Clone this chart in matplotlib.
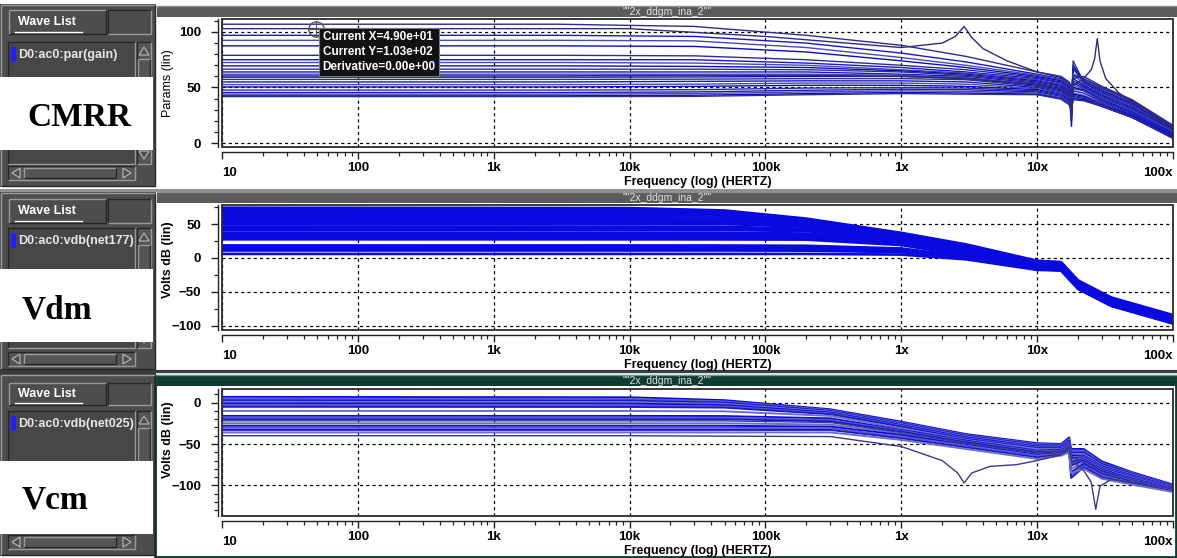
import matplotlib
matplotlib.use("Agg")
import matplotlib.pyplot as plt
from matplotlib.patches import Rectangle, Polygon
from matplotlib.ticker import LogLocator, MultipleLocator, NullFormatter
from matplotlib import font_manager as fm

W, H = 1177, 558

_names = {f.name for f in fm.fontManager.ttflist}
NARROW = "Liberation Sans Narrow" if "Liberation Sans Narrow" in _names else "Liberation Sans"
SERIF = "Liberation Serif"

# ------------------------------------------------------------------ data
x_ticks = [10, 100, 1e3, 1e4, 1e5, 1e6, 1e7, 1e8]
x_tick_labels = ["10", "100", "1k", "10k", "100k", "1x", "10x", "100x"]
title_text = '""2x_ddgm_ina_2""'

# CMRR (par(gain)) sweep, one row per Monte-Carlo run
cmrr_freq = [10, 3e3, 3e4, 2e5, 1e6, 3e6, 1e7, 1.5e7, 1.72e7, 1.79e7, 1.84e7, 2.2e7, 3e7, 5e7, 1e8]
cmrr_curves = [
    [107, 107, 105, 97, 88, 78, 64, 60, 55, 50, 58, 60, 51, 39, 16],
    [97, 97, 96, 90, 81, 73, 62, 58, 53, 45, 62, 58, 49, 38, 15],
    [92.5, 92.5, 92, 86, 77, 70, 61, 57, 52, 40, 66, 57, 48, 37, 15],
    [87.5, 87.5, 87, 82, 74, 68, 60, 56, 51, 35, 70, 56, 47, 36, 14],
    [79, 79, 78.5, 75, 70, 66, 59, 55, 50, 30, 74, 55, 46, 35, 13],
    [75, 75, 75, 72, 68, 64, 58, 54, 49, 25, 68, 54, 45, 34, 13],
    [72.5, 72.5, 72, 70, 66, 63, 57, 53, 48, 20, 62, 53, 44, 33, 12],
    [69.5, 69.5, 69, 68, 65, 62, 56, 52, 47, 15, 58, 52, 43, 32, 12],
    [66.5, 66.5, 66.5, 66, 64, 61, 55, 51, 46, 22, 56, 51, 42, 31, 11],
    [64, 64, 64, 64, 62, 60, 54, 50, 45, 28, 54, 50, 41, 30, 10],
    [62, 62, 62, 62, 61, 59, 53, 49, 44, 32, 52, 49, 40, 29, 10],
    [59.3, 59.3, 59.5, 60, 60, 58, 52, 48, 43, 35, 50, 48, 39, 28, 9],
    [57.3, 57.3, 57.5, 58, 58, 57, 51, 47, 42, 36, 49, 47, 38, 27, 8],
    [55, 55, 55.5, 56, 56, 55, 50, 46, 41, 36, 47, 45, 37, 26, 8],
    [52.6, 52.6, 53, 54, 54, 53, 49, 45, 40, 35, 45, 43, 36, 25, 7],
    [50.5, 50.5, 51, 52, 52, 51, 48, 44, 39, 34, 44, 42, 35, 25, 7],
    [47.7, 47.7, 48, 49.5, 50, 49.5, 47, 43, 38, 33, 43, 41, 35, 24, 6],
    [45.5, 45.5, 46, 47.5, 48.5, 48, 46, 42, 37, 32, 42, 40, 34, 24, 6],
    [44, 44, 44.5, 46, 47, 46.5, 45, 41, 36, 31, 41, 39, 33, 23, 5],
    [42.5, 42.5, 43, 44.5, 45.5, 45, 44, 40, 35, 30, 40, 39, 33, 23, 5],
    [41.8, 41.8, 42, 43.5, 44.5, 44, 43.5, 39.5, 34.5, 29, 39, 38, 33, 23, 4],
]
# run with the resonance near 2.9 MHz
cmrr_peak_freq = [10, 1e4, 1e5, 5e5, 1e6, 2e6, 2.5e6, 2.9e6, 3.3e6, 4e6, 6e6, 1e7, 1.5e7, 1.72e7,
                  1.79e7, 1.84e7, 2.2e7, 3e7, 5e7, 1e8]
cmrr_peak_vals = [103, 103, 96, 89, 86, 90, 96, 105, 95, 85, 74, 64, 59, 54, 45, 60, 58, 50, 38, 15]
# run with the resonance near 28 MHz
cmrr_res_freq = [10, 3e3, 3e4, 2e5, 1e6, 3e6, 1e7, 1.5e7, 1.72e7, 1.79e7, 1.84e7, 2.2e7, 2.5e7,
                 2.65e7, 2.77e7, 2.9e7, 3.2e7, 4e7, 6e7, 1e8]
cmrr_res_vals = [60.5, 60.5, 61, 61, 60, 58, 53, 49, 44, 33, 52, 58, 66, 76, 94, 74, 58, 45, 30, 12]

# differential-mode gain vdb(net177)
vdm_freq = [10, 1e4, 5e4, 2e5, 1e6, 3e6, 1e7, 1.5e7, 2e7, 3.5e7, 1e8]
vdm_curves = [
    [74, 73.5, 70, 58, 37, 20, -4, -6, -33, -58, -84],
    [71, 70.5, 68, 57, 36, 19, -5, -7, -34, -59, -85],
    [68, 67.5, 66, 56, 35, 18, -6, -8, -35, -60, -86],
    [65, 64.5, 63.5, 55, 34, 17, -7, -9, -36, -61, -87],
    [62, 61.5, 61, 54, 33, 16, -8, -10, -37, -62, -88],
    [59, 58.5, 58, 52, 32, 15, -8.5, -10.5, -37.5, -62.5, -88.5],
    [56, 55.7, 55.5, 50, 31, 14, -9, -11, -38, -63, -89],
    [53, 52.8, 52.5, 48, 30, 13, -9.5, -11.5, -38.5, -63.5, -89.5],
    [50.5, 50.3, 50, 46, 29, 12, -10, -12, -39, -64, -90],
    [46.5, 46.3, 46, 43, 28, 11, -10.5, -12.5, -39.5, -64.5, -90.5],
    [44, 43.8, 43.5, 41, 27, 10, -11, -13, -40, -65, -91],
    [41.5, 41.4, 41.2, 39.5, 26, 9, -11.5, -13.5, -40.5, -65.5, -91.5],
    [37.5, 37.4, 37.2, 36, 25, 8, -12, -14, -41, -66, -92],
    [35, 34.9, 34.7, 33.5, 24, 7, -12.5, -14.5, -41.5, -66.5, -92.5],
    [32.5, 32.4, 32.2, 31.5, 23, 6, -13, -15, -42, -67, -93],
    [30, 29.9, 29.8, 29, 21, 5, -13.5, -15.5, -42.5, -67.5, -93.5],
    [27.5, 27.4, 27.3, 27, 19, 4, -14, -16, -43, -68, -94],
    [18.5, 18.5, 18.4, 18, 14, 2.5, -15, -16.5, -43.5, -68.5, -94.5],
    [16, 16, 15.9, 15.7, 12, 1.5, -15.5, -17, -44, -69, -95],
    [13.5, 13.5, 13.4, 13.2, 10, 0.5, -16, -17.5, -44.5, -69.5, -95.5],
    [11, 11, 11, 10.8, 8.5, -0.5, -16.5, -18, -45, -70, -96],
    [6, 6, 6, 6, 5, -2, -17.5, -18.5, -45.5, -70.5, -96.5],
]

# common-mode gain vdb(net025)
vcm_freq = [10, 1e4, 5e4, 3e5, 1e6, 3e6, 1e7, 1.5e7, 1.72e7, 1.78e7, 2.2e7, 3e7, 5e7, 1e8]
vcm_curves = [
    [7, 6.5, 3, -8, -23, -38, -49, -50, -42, -56, -56, -71, -84, -99],
    [5, 4.5, 1.5, -9, -24, -39, -50, -51, -44, -58, -58, -73, -85, -100],
    [3, 2.5, 0, -10, -25, -40, -51, -52, -46, -60, -60, -74, -86, -100.5],
    [1, 0.5, -1.5, -11, -26, -41, -52, -52.5, -48, -62, -62, -76, -87, -101],
    [-1, -1.3, -3, -12, -27, -42, -53, -53, -49, -64, -64, -77, -88, -101.5],
    [-3, -3.3, -4.5, -13, -28, -43, -54, -54, -50, -66, -65, -78, -89, -102],
    [-5, -5.2, -6, -14, -29, -44, -55, -55, -51, -68, -66, -79, -90, -102.5],
    [-10, -10.1, -10.5, -16, -31, -45, -56, -56, -52, -70, -67, -80, -91, -103],
    [-16, -16, -16.2, -19, -33, -46, -58, -57, -53, -72, -68, -81, -92, -103.5],
    [-18, -18, -18.1, -21, -34, -47, -59, -58, -54, -74, -69, -82, -93, -104],
    [-20, -20, -20, -22.5, -35, -48, -60, -59, -55, -76, -70, -83, -94, -104.5],
    [-25, -25, -25, -26.5, -37, -50, -62, -60, -56, -80, -72, -85, -95, -105],
    [-28, -28, -28, -29, -39, -51, -63, -61, -57, -84, -74, -86, -96, -105.5],
    [-30.5, -30.5, -30.5, -31, -41, -52, -64, -62, -58, -88, -76, -88, -97, -106],
    [-33, -33, -33, -33, -43, -54, -66, -63, -59, -91, -78, -90, -98, -107],
    [-36, -36, -36, -36, -45, -56, -68, -64, -60, -85, -80, -92, -99, -108],
]
# run with the notch near 2.9 MHz
vcm_notch_freq = [10, 1e4, 3e5, 1e6, 2e6, 2.6e6, 2.9e6, 3.3e6, 4.5e6, 7e6, 1e7, 1.5e7, 1.72e7,
                  1.78e7, 2.2e7, 3e7, 5e7, 1e8]
vcm_notch_vals = [-40, -40, -41, -53, -70, -85, -97, -85, -77, -75, -70, -63, -55, -65, -72, -85, -95, -104]
# run with the notch near 27 MHz
vcm_notch2_freq = [10, 1e4, 5e4, 3e5, 1e6, 3e6, 1e7, 1.5e7, 1.72e7, 1.78e7, 2.2e7, 2.5e7, 2.7e7,
                   2.9e7, 3.5e7, 5e7, 1e8]
vcm_notch2_vals = [-22, -22, -22, -24, -36, -49, -61, -59, -55, -70, -82, -96, -129, -101, -93, -96, -104]

cursor_x, cursor_y, cursor_deriv = 49.0, 103.0, 0.0

panel_names = ["CMRR", "Vdm", "Vcm"]
wave_entries = ["D0:ac0:par(gain)", "D0:ac0:vdb(net177)", "D0:ac0:vdb(net025)"]
y_labels = ["Params (lin)", "Volts dB (lin)", "Volts dB (lin)"]

# ------------------------------------------------------------------ canvas
fig = plt.figure(figsize=(W / 100, H / 100), dpi=100)
fig.patch.set_facecolor("white")
bg = fig.add_axes([0, 0, 1, 1])
bg.set_xlim(0, W)
bg.set_ylim(H, 0)
bg.axis("off")

GRAY = "#4d4d4d"
LIGHT = "#9a9a9a"
DARK = "#262626"


def box(x0, y0, x1, y1, **kw):
    bg.add_patch(Rectangle((x0, y0), x1 - x0, y1 - y0, **kw))


def bevel(x0, y0, x1, y1, sunk=False, lw=1.0):
    hi, lo = (DARK, LIGHT) if sunk else (LIGHT, DARK)
    bg.plot([x0, x1], [y0, y0], color=hi, lw=lw, solid_capstyle="butt")
    bg.plot([x0, x0], [y0, y1], color=hi, lw=lw, solid_capstyle="butt")
    bg.plot([x0, x1], [y1, y1], color=lo, lw=lw, solid_capstyle="butt")
    bg.plot([x1, x1], [y0, y1], color=lo, lw=lw, solid_capstyle="butt")


def arrow(cx, cy, size, direction):
    s = size
    pts = {
        "up": [(cx - s, cy + s * 0.8), (cx + s, cy + s * 0.8), (cx, cy - s * 0.8)],
        "down": [(cx - s, cy - s * 0.8), (cx + s, cy - s * 0.8), (cx, cy + s * 0.8)],
        "left": [(cx + s * 0.8, cy - s), (cx + s * 0.8, cy + s), (cx - s * 0.8, cy)],
        "right": [(cx - s * 0.8, cy - s), (cx - s * 0.8, cy + s), (cx + s * 0.8, cy)],
    }[direction]
    bg.add_patch(Polygon(pts, closed=True, fc=GRAY, ec="#b0b0b0", lw=0.9))


# per-panel window layout (pixel rows)
layout = [
    dict(gray=(4, 187), button=(10, 34), lst=(42, 164), hs=(166, 180), white=(77, 150),
         bar=(6, 17), bar_color="#5b5b5b", ax=(19, 147)),
    dict(gray=(192, 370), button=(199, 223), lst=(228, 348), hs=(352, 366), white=(269, 342),
         bar=(192, 203), bar_color="#5b5b5b", ax=(205, 330)),
    dict(gray=(374, 556), button=(383, 405), lst=(411, 531), hs=(535, 549), white=(461, 534),
         bar=(375, 386), bar_color="#0e3c30", ax=(389, 516)),
]

label_x = [27, 22, 22]
label_y = [118, 310, 500]

for i, L in enumerate(layout):
    g0, g1 = L["gray"]
    box(0, g0, 156, g1, fc=GRAY, ec="none")
    bevel(1, g0 + 1, 155, g1 - 1)
    # Wave List button
    b0, b1 = L["button"]
    bevel(9, b0, 106, b1)
    bevel(108, b0, 151, b1, sunk=True)
    bg.text(18, (b0 + b1) / 2, "Wave List", color="white", fontsize=9, fontweight="bold",
            family=[NARROW, "DejaVu Sans"], va="center", ha="left")
    bg.plot([15, 82], [b1 - 2, b1 - 2], color="white", lw=1)
    # list box
    l0, l1 = L["lst"]
    box(8, l0, 135, l1, fc="#474747", ec="none")
    bevel(8, l0, 135, l1, sunk=True)
    box(11, l0 + 5, 16, l0 + 20, fc="#1f1fff", ec="none")
    bg.text(18, l0 + 13, wave_entries[i], color="#e6e6e6", fontsize=9, fontweight="bold",
            family=[NARROW, "DejaVu Sans"], va="center", ha="left")
    # vertical scrollbar
    box(137, l0, 151, l1, fc="#555555", ec="none")
    bevel(137, l0, 151, l1, sunk=True)
    arrow(144, l0 + 9, 5, "up")
    arrow(144, l1 - 9, 5, "down")
    bevel(138, l0 + 17, 150, l1 - 17)
    # horizontal scrollbar
    h0, h1 = L["hs"]
    box(8, h0, 135, h1, fc="#555555", ec="none")
    bevel(8, h0, 135, h1, sunk=True)
    arrow(16, (h0 + h1) / 2, 5, "left")
    arrow(127, (h0 + h1) / 2, 5, "right")
    bevel(24, h0 + 2, 116, h1 - 2)
    # caption box
    w0, w1 = L["white"]
    box(0, w0, 153, w1, fc="white", ec="none", zorder=3)
    bg.text(label_x[i], label_y[i], panel_names[i], fontsize=24, fontweight="bold",
            family=SERIF, va="center", ha="left", zorder=4)
    # waveform window title bar
    t0, t1 = L["bar"]
    box(157, t0, W, t1, fc=L["bar_color"], ec="none")
    bg.plot([157, W], [t0, t0], color="#8e8e8e" if i < 2 else "#6f8f86", lw=1)
    bg.text((157 + W) / 2, (t0 + t1) / 2 + 0.5, title_text, color="#e0e0e0", fontsize=7.5,
            family=[NARROW, "DejaVu Sans"], va="center", ha="center")

# separators between windows
bg.plot([0, W], [189.5, 189.5], color="#8a8a8a", lw=2)
bg.plot([0, W], [371.5, 371.5], color="#3a3a3a", lw=3)
bg.plot([157, W], [373.5, 373.5], color="#cfe3dc", lw=1.5)
box(155, 374, W - 1, H - 1, fc="none", ec="#0e3c30", lw=2)

# ------------------------------------------------------------------ plots
AX_X0, AX_X1 = 222, 1173


def make_axes(y0, y1):
    return fig.add_axes([AX_X0 / W, 1 - y1 / H, (AX_X1 - AX_X0) / W, (y1 - y0) / H])


def style_axes(ax, ylim, yticks, yminor, ylabel, ylabel_weight, ylabel_y):
    ax.set_xscale("log")
    ax.set_xlim(10, 1e8)
    ax.set_ylim(*ylim)
    ax.set_facecolor("white")
    ax.spines["top"].set_visible(False)
    ax.spines["right"].set_visible(False)
    ax.spines["left"].set_position(("outward", 3))
    ax.spines["bottom"].set_position(("outward", 3.6))
    for s in ("left", "bottom"):
        ax.spines[s].set_color("#222222")
        ax.spines[s].set_linewidth(1.0)
    ax.add_patch(Rectangle((0, 0), 1, 1, transform=ax.transAxes, fill=False, lw=1.3,
                           ec="#2a2a2a", clip_on=False, zorder=6))
    ax.set_xticks(x_ticks, x_tick_labels)
    ax.xaxis.set_minor_locator(LogLocator(base=10, subs=range(2, 10)))
    ax.xaxis.set_minor_formatter(NullFormatter())
    ax.set_yticks(yticks)
    ax.yaxis.set_minor_locator(MultipleLocator(yminor))
    ax.tick_params(which="major", length=5, width=1, color="#222222", labelsize=9.5)
    ax.tick_params(axis="x", which="major", pad=2)
    ax.tick_params(axis="y", which="major", pad=7)
    ax.tick_params(which="minor", length=3, width=0.9, color="#222222")
    for lab in ax.get_xticklabels() + ax.get_yticklabels():
        lab.set_fontweight("bold")
        lab.set_family([NARROW, "DejaVu Sans"])
    xl = ax.get_xticklabels()
    xl[0].set_ha("left")
    xl[0].set_y(-0.04)
    xl[-1].set_ha("right")
    xl[-1].set_y(-0.04)
    ax.grid(True, which="major", ls=(0, (2.5, 2.5)), color="black", lw=0.9)
    ax.set_axisbelow(False)
    ax.set_xlabel("Frequency (log) (HERTZ)", fontsize=9, fontweight="bold",
                  family=[NARROW, "DejaVu Sans"], labelpad=-2)
    ax.set_ylabel(ylabel, fontsize=9, fontweight=ylabel_weight, family=[NARROW, "DejaVu Sans"])
    ax.yaxis.set_label_coords(-0.05, ylabel_y)


cmrr_colors = ["#2d2d8f", "#1717cf", "#4a4aaa", "#0b0bc4"]
vcm_colors = ["#0c0cd8", "#5a5ad0", "#1b1bc8", "#6e6ec8"]

# CMRR
ax1 = make_axes(*layout[0]["ax"])
style_axes(ax1, (-3.6, 111.7), [0, 50, 100], 10, y_labels[0], "normal", 0.5)
for k, row in enumerate(cmrr_curves):
    ax1.plot(cmrr_freq, row, color=cmrr_colors[k % 4], lw=1.0, zorder=3)
ax1.plot(cmrr_peak_freq, cmrr_peak_vals, color="#2d2d7a", lw=1.0, zorder=3)
ax1.plot(cmrr_res_freq, cmrr_res_vals, color="#2d2d7a", lw=1.0, zorder=3)
ax1.plot(cursor_x, cursor_y, marker="o", ms=11, mfc="none", mec="#555555", mew=1.0, zorder=7,
         clip_on=False)
ax1.plot(cursor_x, cursor_y, marker="+", ms=11, mec="#555555", mew=0.8, zorder=7, clip_on=False)
ax1.annotate(f"Current X={cursor_x:.2e}\nCurrent Y={cursor_y:.2e}\nDerivative={cursor_deriv:.2e}",
             xy=(cursor_x, cursor_y), xytext=(5, -2), textcoords="offset points",
             ha="left", va="top", color="white", fontsize=8.5, fontweight="bold",
             family=[NARROW, "DejaVu Sans"], linespacing=1.3, zorder=8,
             bbox=dict(boxstyle="square,pad=0.3", fc="#111111", ec="#777777", lw=0.8))

# Vdm
ax2 = make_axes(*layout[1]["ax"])
style_axes(ax2, (-106, 78), [-100, -50, 0, 50], 25, y_labels[1], "bold", 0.56)
for row in vdm_curves:
    ax2.plot(vdm_freq, row, color="#0a0ae0", lw=1.9, zorder=3)

# Vcm
ax3 = make_axes(*layout[2]["ax"])
style_axes(ax3, (-137, 16.5), [-100, -50, 0], 10, y_labels[2], "bold", 0.6)
for k, row in enumerate(vcm_curves):
    ax3.plot(vcm_freq, row, color=vcm_colors[k % 4], lw=1.4, zorder=3)
ax3.plot(vcm_notch_freq, vcm_notch_vals, color="#3a3a8a", lw=1.0, zorder=3)
ax3.plot(vcm_notch2_freq, vcm_notch2_vals, color="#3a3a8a", lw=1.0, zorder=3)

fig.savefig("out.png", dpi=100)
